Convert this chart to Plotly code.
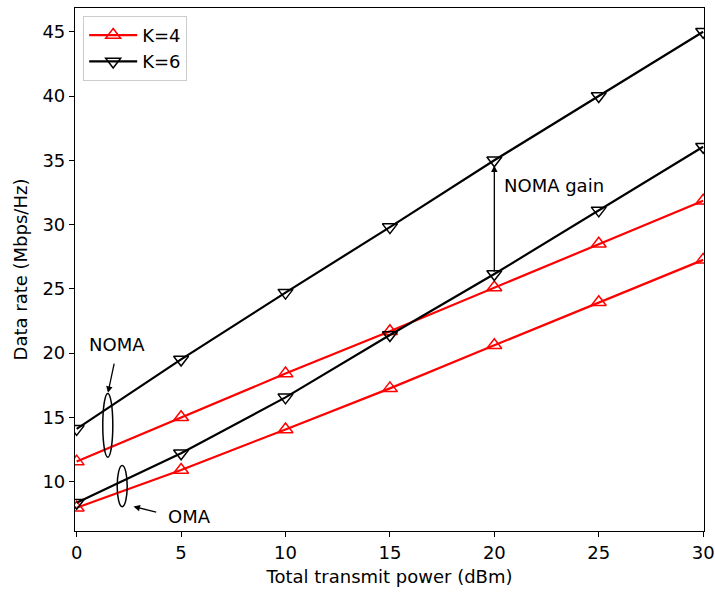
import plotly.graph_objects as go

power = [0, 5, 10, 15, 20, 25, 30]
noma_k4 = [11.55, 15.0, 18.4, 21.7, 25.1, 28.5, 31.85]
oma_k4 = [7.96, 10.9, 14.05, 17.25, 20.6, 23.95, 27.25]
noma_k6 = [14.1, 19.5, 24.7, 29.8, 35.0, 40.0, 45.0]
oma_k6 = [8.35, 12.2, 16.55, 21.4, 26.15, 31.1, 36.05]

x_ticks = [0, 5, 10, 15, 20, 25, 30]
y_ticks = [10, 15, 20, 25, 30, 35, 40, 45]

FONT = "DejaVu Sans"
FS = 18
red = "#ff0000"
black = "#000000"

fig = go.Figure()

def add(y, color, symbol, name, show):
    fig.add_trace(go.Scatter(
        x=power, y=y, mode="lines+markers", name=name, showlegend=show,
        legendgroup=name,
        line=dict(color=color, width=2.2),
        marker=dict(symbol=symbol, size=13, color=color,
                    line=dict(color=color, width=1.5)),
    ))

add(noma_k4, red, "triangle-up-open", "K=4", True)
add(noma_k6, black, "triangle-down-open", "K=6", True)
add(oma_k4, red, "triangle-up-open", "K=4", False)
add(oma_k6, black, "triangle-down-open", "K=6", False)

# ellipses
fig.add_shape(type="circle", xref="x", yref="y", x0=1.25, x1=1.73, y0=11.89, y1=16.86,
              line=dict(color=black, width=1.5))
fig.add_shape(type="circle", xref="x", yref="y", x0=1.94, x1=2.42, y0=8.04, y1=11.24,
              line=dict(color=black, width=1.5))

anns = []
anns.append(dict(x=20, y=34.6, ax=20, ay=26.2, xref="x", yref="y", axref="x", ayref="y",
                 showarrow=True, arrowhead=2, arrowsize=1, arrowwidth=1.3, arrowcolor=black,
                 text="", standoff=0, startstandoff=0))
anns.append(dict(x=20.36, y=33.0, xref="x", yref="y", text="NOMA gain", showarrow=False,
                 xanchor="left", yanchor="middle", font=dict(family=FONT, size=FS, color=black)))
anns.append(dict(x=1.5, y=16.9, ax=1.81, ay=19.3, xref="x", yref="y", axref="x", ayref="y",
                 showarrow=True, arrowhead=2, arrowsize=1, arrowwidth=1.3, arrowcolor=black,
                 text="", standoff=0, startstandoff=0))
anns.append(dict(x=1.95, y=20.7, xref="x", yref="y", text="NOMA", showarrow=False,
                 xanchor="center", yanchor="middle", font=dict(family=FONT, size=FS, color=black)))
anns.append(dict(x=2.72, y=8.05, ax=3.88, ay=7.6, xref="x", yref="y", axref="x", ayref="y",
                 showarrow=True, arrowhead=2, arrowsize=1, arrowwidth=1.3, arrowcolor=black,
                 text="", standoff=0, startstandoff=0))
anns.append(dict(x=4.3, y=7.3, xref="x", yref="y", text="OMA", showarrow=False,
                 xanchor="left", yanchor="middle", font=dict(family=FONT, size=FS, color=black)))

axis_common = dict(showline=True, linecolor=black, linewidth=1.2, mirror=True,
                   ticks="outside", ticklen=5, tickwidth=1.2, tickcolor=black,
                   showgrid=False, zeroline=False, ticklabeloverflow="allow",
                   automargin=False,
                   tickfont=dict(family=FONT, size=FS, color=black))

fig.update_layout(
    width=715, height=592,
    margin=dict(l=75, r=11, t=8, b=61),
    paper_bgcolor="white", plot_bgcolor="white",
    font=dict(family=FONT, size=FS, color=black),
    xaxis=dict(range=[-0.08, 30.04], tickvals=x_ticks,
               title=dict(text="Total transmit power (dBm)", font=dict(family=FONT, size=FS), standoff=8),
               **axis_common),
    yaxis=dict(range=[6.15, 46.85], tickvals=y_ticks,
               title=dict(text="Data rate (Mbps/Hz)", font=dict(family=FONT, size=FS), standoff=10),
               **axis_common),
    legend=dict(x=0.013, y=0.985, xanchor="left", yanchor="top",
                bgcolor="rgba(255,255,255,0.8)", bordercolor="#cccccc", borderwidth=1,
                font=dict(family=FONT, size=FS, color=black), itemwidth=48,
                tracegroupgap=0),
    annotations=anns,
    showlegend=True,
)

fig.write_html("out.html")
